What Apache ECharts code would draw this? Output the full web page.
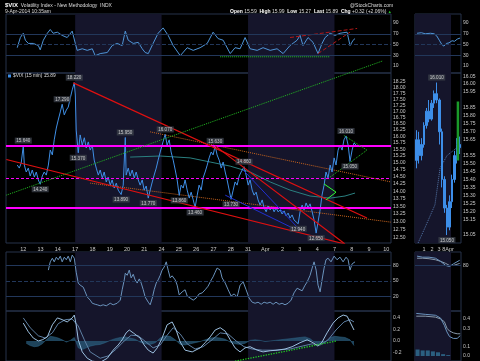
<!DOCTYPE html>
<html>
<head>
<meta charset="utf-8">
<script src="https://cdn.jsdelivr.net/npm/echarts@6.0.0/dist/echarts.min.js"></script>
<style>html,body{margin:0;padding:0;background:#000;overflow:hidden}#c{width:480px;height:361px}</style>
</head>
<body>
<div id="c"></div>
<script>
// ================= DATA =================
const dayLabels = ['12','13','14','17','18','19','20','21','24','25','26','27','28','31','Apr','2','3','4','7','8','9','10'];
const shadeStart = [3, 13];
const shadeEnd = [8, 18];

// main 15-min price line (x = trading-day index, y = price)
const priceT = [-0.35,-0.23,-0.12,0,0.06,0.17,0.29,0.40,0.52,0.64,0.75,0.87,0.98,1.10,1.21,1.33,1.45,1.56,1.68,1.79,1.91,2.02,2.14,2.25,2.37,2.49,2.60,2.72,2.83,2.95,3.01,3.06,3.18,3.29,3.41,3.53,3.64,3.76,3.87,3.99,4.10,4.22,4.34,4.45,4.57,4.68,4.80,4.91,5.03,5.14,5.26,5.38,5.49,5.66,5.78,5.90,5.95,6.07,6.18,6.30,6.42,6.53,6.65,6.76,6.88,6.99,7.11,7.23,7.34,7.46,7.57,7.69,7.80,7.92,8.03,8.15,8.21,8.32,8.44,8.55,8.67,8.79,8.90,9.02,9.13,9.25,9.36,9.48,9.60,9.71,9.83,9.94,10.06,10.17,10.29,10.40,10.52,10.64,10.75,10.87,10.98,11.10,11.21,11.33,11.45,11.56,11.68,11.79,11.91,12.02,12.14,12.25,12.37,12.49,12.60,12.77,12.89,13.01,13.12,13.24,13.35,13.47,13.58,13.70,13.82,13.93,14.05,14.16,14.28,14.39,14.51,14.62,14.74,14.86,14.97,15.09,15.20,15.32,15.43,15.55,15.66,15.78,15.90,16.01,16.13,16.24,16.36,16.47,16.59,16.71,16.82,16.94,17.05,17.17,17.28,17.40,17.51,17.63,17.75,17.86,17.98,18.09,18.21,18.32,18.44,18.55,18.67,18.79,18.90,19.02,19.13,19.25];
const priceV = [14.92,14.81,14.99,15.64,14.92,14.67,14.81,14.53,14.74,14.49,14.67,14.39,14.24,14.53,14.67,14.56,14.92,15.47,15.29,15.86,16.32,16.64,16.97,17.29,16.85,17.05,17.17,17.55,17.90,18.22,17.68,16.24,15.37,16.05,15.66,15.94,15.55,15.78,15.47,15.66,15.10,14.81,14.56,14.74,14.46,14.67,14.32,14.49,14.21,14.39,14.11,14.28,14.04,13.89,14.21,15.95,14.56,14.81,14.53,14.74,14.46,14.67,14.39,14.21,14.39,14.04,14.18,13.77,14.04,14.32,14.56,14.81,15.10,15.40,15.66,15.94,16.07,15.66,15.86,15.40,15.10,14.74,14.39,13.86,14.21,14.11,14.39,14.04,13.77,13.97,13.71,13.46,13.87,14.21,14.04,14.46,14.67,14.92,15.18,15.40,15.29,15.63,15.29,15.10,14.81,15.03,14.67,14.39,14.04,13.73,14.04,14.32,14.21,14.53,14.67,14.86,14.56,14.21,14.39,14.04,13.87,13.97,13.71,13.54,13.71,13.45,13.32,13.51,13.38,13.48,13.32,13.45,13.32,13.38,13.25,13.35,13.19,13.28,13.12,13.22,13.06,13.00,12.94,13.32,13.54,13.38,13.61,13.45,13.58,13.32,13.06,12.65,13.00,13.38,13.87,14.21,14.67,14.46,14.92,14.67,15.18,14.92,15.47,15.66,15.47,15.86,16.01,15.66,15.05,15.47,15.74,15.66];

// annotated highs / lows
const peakT = [0, 0.98, 2.25, 2.95, 3.18, 5.66, 5.90, 7.23, 8.21, 9.02, 9.94, 11.10, 12.02, 12.77, 15.90, 16.94, 18.67, 18.90];
const peakV = [15.64, 14.24, 17.29, 18.22, 15.37, 13.89, 15.95, 13.77, 16.07, 13.86, 13.46, 15.63, 13.73, 14.86, 12.94, 12.65, 16.01, 15.05];
const peakPos = ['top','bottom','top','top','bottom','bottom','top','bottom','top','bottom','bottom','top','bottom','top','bottom','bottom','top','bottom'];

const priceTicks = [12.50,12.75,13.00,13.25,13.50,13.75,14.00,14.25,14.50,14.75,15.00,15.25,15.50,15.75,16.00,16.25,16.50,16.75,17.00,17.25,17.50,17.75,18.00,18.25];
const priceAxisRange = [12.35, 18.65];
const levelSolid = [15.63, 13.46];
const levelDashed = [14.46];

// trend lines [t1, p1, t2, p2]
const greenTrend = [-0.98, 13.87, 20.81, 19.21];
const redTrends = [[2.89, 18.21, 19.88, 13.12], [-0.98, 15.12, 18.61, 12.32], [11.10, 15.63, 18.61, 12.32]];
const blueTrends = [[11.68, 13.87, 15.61, 12.80], [12.72, 14.74, 16.01, 12.74]];
const orangeTrends = [[7.34, 16.17, 21.27, 14.32], [3.87, 14.28, 21.27, 12.99]];
const greenWedgeT = [17.40, 18.09, 17.51];
const greenWedgeV = [14.25, 13.97, 13.71];
const greenTriT = [17.75, 19.88, 18.50];
const greenTriV = [14.49, 15.47, 16.05];
const maT = [6.18, 7.92, 9.65, 10.81, 11.97, 13.12, 14.28, 15.43, 16.59, 17.75, 18.61, 19.19];
const maV = [15.21, 15.25, 15.18, 15.03, 14.88, 14.67, 14.32, 14.04, 13.84, 13.77, 13.84, 13.94];

// RSI (top panel)
const rsiT = [-0.35,-0.17,0,0.12,0.29,0.58,0.87,0.98,1.16,1.39,1.56,1.73,1.97,2.25,2.54,2.83,3.01,3.12,3.41,3.70,3.99,4.16,4.45,4.86,5.14,5.43,5.72,5.90,6.07,6.36,6.65,6.88,7.05,7.23,7.51,7.80,8.09,8.38,8.67,9.08,9.48,9.83,10.23,10.64,10.98,11.27,11.56,11.97,12.25,12.54,12.83,13.12,13.53,13.87,14.28,14.68,15.03,15.43,15.84,16.01,16.18,16.47,16.76,17.05,17.28,17.46,17.75,18.03,18.32,18.73,18.90,19.08,19.19];
const rsiV = [44,63,71,58,52,52,48,40,58,71,78,71,73,67,63,75,52,39,42,39,42,29,33,35,48,52,48,75,58,52,54,42,35,33,52,71,81,67,48,29,44,39,44,52,73,61,58,33,44,42,63,42,39,44,39,42,33,48,58,67,48,63,54,33,52,63,71,67,71,73,48,58,61];
const rsiSupport = [11.39, 27, 17.75, 27];
const rsiRed = [[15.43, 63, 19.31, 80], [17.05, 33, 18.90, 73]];
const rsiTicks = [10, 30, 50, 70, 90];

// Stochastics
const stochT = [1.45,1.56,1.68,1.79,1.91,2.02,2.14,2.25,2.37,2.49,2.60,2.72,2.83,2.95,3.06,3.18,3.29,3.47,3.58,3.70,3.87,3.99,4.16,4.28,4.45,4.62,4.80,5.03,5.20,5.43,5.61,5.72,5.84,5.90,6.01,6.13,6.24,6.36,6.47,6.59,6.71,6.82,6.94,7.05,7.23,7.34,7.46,7.57,7.69,7.80,7.92,8.03,8.15,8.27,8.38,8.50,8.61,8.79,8.90,9.02,9.19,9.36,9.48,9.65,9.83,10.00,10.17,10.35,10.52,10.69,10.87,10.98,11.10,11.21,11.39,11.50,11.68,11.85,12.02,12.20,12.37,12.54,12.72,12.89,13.06,13.24,13.41,13.58,13.76,13.93,14.10,14.28,14.45,14.62,14.80,14.97,15.14,15.32,15.49,15.66,15.84,15.95,16.13,16.30,16.42,16.59,16.71,16.82,16.94,17.05,17.17,17.28,17.40,17.51,17.63,17.80,17.98,18.15,18.32,18.50,18.67,18.79,18.90,19.02,19.19];
const stochV = [71,87,94,87,96,91,98,87,96,91,98,87,100,94,67,46,42,38,29,19,13,7,5,4,2,4,2,7,4,7,13,33,52,65,61,71,56,63,52,46,54,46,33,19,9,4,17,33,46,52,61,71,77,87,71,56,60,52,42,23,29,33,21,17,13,17,25,27,33,40,52,58,67,75,71,56,46,33,21,25,19,42,48,33,17,9,7,9,5,9,7,9,5,9,5,7,4,7,13,27,36,33,31,42,48,61,75,87,71,42,29,52,75,91,94,87,98,91,96,87,96,91,71,83,87];
const stochTicks = [20, 50, 80];

// MACD
const macdT = [0,0.29,0.58,0.87,1.10,1.39,1.68,1.97,2.25,2.54,2.83,2.95,3.06,3.18,3.41,3.70,3.99,4.45,4.86,5.20,5.49,5.72,5.95,6.13,6.36,6.76,6.99,7.23,7.51,7.75,8.03,8.32,8.61,8.84,9.08,9.36,9.77,10.23,10.52,10.81,11.10,11.39,11.68,11.97,12.25,12.54,12.83,13.12,13.53,13.87,14.28,14.68,15.14,15.55,16.01,16.42,16.76,17.05,17.28,17.57,17.92,18.21,18.50,18.73,18.90,19.13];
const macdV = [0.31,0.16,0.05,0.0,0.02,0.07,0.28,0.40,0.37,0.33,0.40,0.45,0.28,0.02,-0.19,-0.30,-0.35,-0.37,-0.30,-0.16,-0.07,0.02,0.14,0.19,0.14,0.05,-0.07,-0.16,-0.21,-0.12,0.05,0.28,0.33,0.19,-0.02,-0.16,-0.19,-0.12,-0.03,0.07,0.19,0.23,0.17,0.02,-0.12,-0.19,-0.12,-0.10,-0.16,-0.19,-0.17,-0.16,-0.14,-0.10,-0.03,0.02,-0.03,-0.09,-0.02,0.14,0.31,0.40,0.45,0.43,0.33,0.19];
const signalT = [0,0.40,0.87,1.27,1.68,2.02,2.43,2.83,3.18,3.53,3.87,4.45,4.91,5.38,5.84,6.24,6.65,7.11,7.51,7.92,8.32,8.67,9.08,9.48,9.94,10.40,10.92,11.39,11.85,12.31,12.77,13.24,13.82,14.57,15.43,16.13,16.71,17.17,17.63,18.09,18.55,18.90,19.13];
const signalV = [0.40,0.23,0.09,0.05,0.14,0.30,0.37,0.38,0.26,0.02,-0.19,-0.30,-0.26,-0.14,0.0,0.10,0.09,-0.02,-0.12,-0.07,0.10,0.23,0.12,-0.05,-0.14,-0.10,0.02,0.14,0.12,0.0,-0.10,-0.14,-0.16,-0.16,-0.14,-0.09,-0.05,-0.07,0.02,0.19,0.33,0.37,0.33];
const histT = [0.17,0.40,0.64,0.87,1.10,1.33,1.56,1.79,2.02,2.25,2.49,2.72,2.95,3.18,3.41,3.64,3.87,4.16,4.45,4.74,5.03,5.32,5.61,5.90,6.18,6.47,6.76,7.05,7.34,7.63,7.92,8.21,8.50,8.79,9.08,9.36,9.65,9.94,10.23,10.52,10.81,11.10,11.39,11.68,11.97,12.25,12.54,12.83,13.12,13.41,13.70,13.99,14.28,14.57,14.86,15.14,15.43,15.72,16.01,16.30,16.59,16.88,17.17,17.46,17.75,18.03,18.32,18.61,18.90,19.13];
const histV = [-0.04,-0.08,-0.10,-0.09,-0.05,0.02,0.08,0.07,0.05,0.02,-0.02,0.01,0.06,-0.12,-0.15,-0.12,-0.09,-0.07,-0.06,-0.03,0.01,0.04,0.06,0.07,0.05,0.03,-0.02,-0.05,-0.06,-0.03,0.05,0.09,0.08,0.02,-0.06,-0.07,-0.05,-0.03,-0.01,0.02,0.05,0.06,0.05,0.03,-0.02,-0.05,-0.06,-0.04,0.01,0.02,0.01,-0.01,0.0,0.01,0.02,0.03,0.04,0.05,0.06,0.07,0.04,-0.03,-0.06,-0.03,0.06,0.08,0.07,0.06,0.02,-0.08];
const macdSupport = [12.25, -0.35, 18.15, 0.0];
const macdTicks = [-0.2, 0.0, 0.2, 0.4];

// ---- right-hand (recent) panels, x = bar index ----
const rightTickPos = [3.5, 6.7, 9.4, 12.9];
const rightTickLab = ['1', '2', '3', '8Apr'];
const rightShade = [0, 14.1];
const rRsiX = [0.8, 2.5, 4, 6, 7.5, 8.5, 9.5, 10.5, 11.3, 12.3, 13.3, 14.5, 15.5, 16.5, 17.6];
const rRsiV = [71, 72, 70, 71, 70, 66, 58, 50, 47, 52, 53, 57, 56, 60, 62];
const candleOpen  = [15.52,15.65,15.55,15.62,15.74,15.83,15.78,15.88,15.94,15.90,15.70,15.40,15.22,15.10,15.26,15.40,15.55,15.62];
const candleClose = [15.65,15.55,15.62,15.74,15.83,15.78,15.88,15.94,15.90,15.70,15.40,15.22,15.10,15.26,15.40,15.55,15.62,15.60];
const candleLow   = [15.47,15.50,15.52,15.60,15.72,15.76,15.77,15.85,15.88,15.62,15.35,15.19,15.05,15.08,15.22,15.38,15.50,15.56];
const candleHigh  = [15.71,15.70,15.66,15.76,15.85,15.90,15.90,15.96,16.01,15.91,15.72,15.42,15.24,15.30,15.43,15.58,15.66,15.67];
const rMaX = [1.2, 4, 7.8, 9.8, 12.5, 16.4, 17.8];
const rMaV = [15.00, 15.10, 15.24, 15.47, 15.55, 15.60, 15.61];
const rightTicks = [15.05,15.15,15.20,15.25,15.30,15.35,15.40,15.45,15.50,15.55,15.65,15.70,15.75,15.80,15.85,15.95,16.00,16.05];
const rightMarks = [15.89, 15.61, 15.11];
const todayBar = [16.8, 15.52, 16.8, 15.89];
const rStochX = [0.8, 3, 5.5, 8, 10, 12, 13.5, 15, 17.5];
const rStochK = [98, 96, 96, 94, 88, 80, 78, 83, 90];
const rStochD = [94, 94, 93, 91, 88, 84, 80, 80, 84];
const rMacdX = [0.5, 4, 8, 10, 11.5, 12.5, 13.5, 15, 16.5, 17.7];
const rMacdA = [0.46, 0.45, 0.44, 0.41, 0.33, 0.26, 0.21, 0.19, 0.19, 0.22];
const rMacdB = [0.43, 0.43, 0.42, 0.40, 0.37, 0.30, 0.27, 0.25, 0.24, 0.24];
const rHistX = [1, 3, 5, 7, 9, 11, 13];
const rHistV = [0.07, 0.06, 0.06, 0.05, 0.04, 0.02, 0.01];
const rMacdTicks = [0.0, 0.1, 0.3, 0.4];

// ================= CHART =================
const ln = Math.log;
const FONT = "'Liberation Sans', Arial, sans-serif";
const NFONT = "'Liberation Sans Narrow', 'Liberation Sans', Arial, sans-serif";
const SHADE = '#15152b', BORDER = '#26324a', REF = '#22375a', TXT = '#c8c8c8';
const pairs = (a, b, f) => a.map((x, k) => [x, f ? f(b[k]) : b[k]]);
const segLn = s => [[s[0], ln(s[1])], [s[2], ln(s[3])]];
const seg = s => [[s[0], s[1]], [s[2], s[3]]];

const gridDefs = [
  {left: 6, top: 14, width: 385, height: 59},
  {left: 6, top: 73, width: 385, height: 170},
  {left: 6, top: 252, width: 385, height: 59},
  {left: 6, top: 311, width: 385, height: 50},
  {left: 415, top: 14, width: 46, height: 59},
  {left: 415, top: 73, width: 46, height: 170},
  {left: 415, top: 252, width: 46, height: 59},
  {left: 415, top: 311, width: 46, height: 50}
];
const grid = gridDefs.map(g => Object.assign({show: true, borderColor: BORDER, borderWidth: 1, backgroundColor: 'rgba(0,0,0,0)', outerBoundsMode: 'none'}, g));

const lab = extra => Object.assign({color: TXT, fontSize: 5, fontFamily: FONT, showMinLabel: true, showMaxLabel: true, hideOverlap: false}, extra);
const xAxis = [];
for (let g = 0; g < 4; g++) {
  xAxis.push({type: 'value', gridIndex: g, min: -1, max: 21.27,
    axisLine: {show: false}, axisTick: {show: false}, splitLine: {show: false},
    axisLabel: g === 1 ? lab({customValues: dayLabels.map((_, k) => k), formatter: v => dayLabels[Math.round(v)], margin: 3, fontSize: 5.5}) : {show: false}});
}
for (let g = 4; g < 8; g++) {
  xAxis.push({type: 'value', gridIndex: g, min: 0, max: 18,
    axisLine: {show: false}, axisTick: {show: false}, splitLine: {show: false},
    axisLabel: g === 5 ? lab({customValues: rightTickPos, margin: 3, fontSize: 5.5, formatter: v => {
      let best = 0; rightTickPos.forEach((p, k) => { if (Math.abs(p - v) < Math.abs(rightTickPos[best] - v)) best = k; });
      return rightTickLab[best]; }}) : {show: false}});
}
function yAx(g, min, max, ticks, fmt) {
  return {type: 'value', gridIndex: g, position: 'right', min, max,
    axisLine: {show: false}, axisTick: {show: false}, splitLine: {show: false},
    axisLabel: lab({customValues: ticks, formatter: fmt, margin: 2})};
}
const yAxis = [
  yAx(0, -3.3, 107, rsiTicks, v => String(v)),
  yAx(1, ln(priceAxisRange[0]), ln(priceAxisRange[1]), priceTicks.map(ln), v => Math.exp(v).toFixed(2)),
  yAx(2, -8, 106, stochTicks, v => String(v)),
  yAx(3, -0.348, 0.52, macdTicks, v => v.toFixed(1)),
  yAx(4, -3.3, 107, rsiTicks, v => String(v)),
  yAx(5, 15.0, 16.07, rightTicks, v => v.toFixed(2)),
  yAx(6, -8, 106, [80], v => String(v)),
  yAx(7, -0.054, 0.486, rMacdTicks, v => v.toFixed(1))
];

function ln_(g, data, color, width, extra) {
  return Object.assign({type: 'line', xAxisIndex: g, yAxisIndex: g, data, symbol: 'none', silent: true, z: 3,
    lineStyle: {color, width: width || 1}}, extra || {});
}
function shadeSeries(g, areas) {
  return {type: 'line', xAxisIndex: g, yAxisIndex: g, data: [], silent: true, z: 1,
    markArea: {silent: true, itemStyle: {color: SHADE}, data: areas}};
}
const leftAreas = shadeStart.map((s, k) => [{xAxis: s}, {xAxis: shadeEnd[k]}]);
const rightAreas = [[{xAxis: rightShade[0]}, {xAxis: rightShade[1]}]];
const refLines = vals => ({symbol: ['none', 'none'], silent: true, label: {show: false}, animation: false,
  data: vals.map(v => ({yAxis: v[0], lineStyle: {color: REF, width: 1, type: v[1]}}))});
const hiMark = (v, txt, bg, fg, bd) => ({yAxis: v, lineStyle: {opacity: 0},
  label: {show: true, position: 'end', formatter: txt, backgroundColor: bg, color: fg, borderColor: bd || bg, borderWidth: bd ? 0.6 : 0,
    padding: [1, 1, 0, 1], fontSize: 5, fontFamily: FONT, distance: 1}});

const series = [];
for (let g = 0; g < 4; g++) series.push(shadeSeries(g, leftAreas));
for (let g = 4; g < 8; g++) series.push(shadeSeries(g, rightAreas));

// ---- RSI left ----
series.push(ln_(0, pairs(rsiT, rsiV), '#4f95d8', 1, {markLine: refLines([[70, 'solid'], [50, 'dashed'], [30, 'solid']])}));
series.push(ln_(0, seg(rsiSupport), '#22cc22', 1, {lineStyle: {color: '#22cc22', width: 1, type: 'dotted'}}));
rsiRed.forEach(s => series.push(ln_(0, seg(s), '#b01818', 1, {lineStyle: {color: '#b01818', width: 1, type: 'dashed'}})));
// ---- RSI right ----
series.push(ln_(4, pairs(rRsiX, rRsiV), '#4f95d8', 1, {markLine: {symbol: ['none', 'none'], silent: true,
  data: [{yAxis: 70, lineStyle: {color: REF, type: 'solid'}, label: {show: false}}, {yAxis: 50, lineStyle: {color: REF, type: 'dashed'}, label: {show: false}},
         {yAxis: 30, lineStyle: {color: REF, type: 'solid'}, label: {show: false}}, hiMark(61.04, '61.04', '#2a3a55', '#fff')]}}));

// ---- main price panel ----
series.push(ln_(1, pairs(maT, maV, ln), '#2a8080', 1, {z: 2}));
orangeTrends.forEach(s => series.push(ln_(1, segLn(s), '#c8641e', 1, {lineStyle: {color: '#c8641e', width: 1, type: 'dotted'}})));
series.push(ln_(1, pairs(priceT, priceV, ln), '#3f8fe6', 1, {z: 4,
  markLine: {symbol: ['none', 'none'], silent: true, label: {show: false},
    data: levelSolid.map(v => ({yAxis: ln(v), lineStyle: {color: '#ff00ff', width: 2, type: 'solid'}}))
      .concat(levelDashed.map(v => ({yAxis: ln(v), lineStyle: {color: '#ff00ff', width: 1, type: [3, 2]}})))}}));
redTrends.forEach(s => series.push(ln_(1, segLn(s), '#e01010', 1.2, {z: 5})));
blueTrends.forEach(s => series.push(ln_(1, segLn(s), '#2030d0', 1, {z: 5})));
series.push(ln_(1, segLn(greenTrend), '#22bb22', 1, {z: 5, clip: false, lineStyle: {color: '#22bb22', width: 1, type: 'dotted'}}));
series.push(ln_(1, pairs(greenWedgeT, greenWedgeV, ln), '#33ff33', 1, {z: 5}));
series.push(ln_(1, pairs(greenTriT, greenTriV, ln), '#22bb22', 1, {z: 5, lineStyle: {color: '#22bb22', width: 1, type: 'dotted'}}));
series.push({type: 'scatter', xAxisIndex: 1, yAxisIndex: 1, symbolSize: 1, silent: true, z: 7,
  itemStyle: {color: 'rgba(0,0,0,0)'},
  data: peakT.map((t, k) => ({value: [t, ln(peakV[k])], label: {position: peakPos[k]}})),
  label: {show: true, formatter: p => peakV[p.dataIndex].toFixed(3), fontSize: 4.6, fontFamily: FONT, color: '#e8e8e8',
    backgroundColor: '#3a3e48', padding: [1, 1.5, 0, 1.5], distance: 1.5}});

// ---- right price panel ----
series.push(ln_(5, pairs(rMaX, rMaV), '#5577aa', 1, {lineStyle: {color: '#5577aa', width: 1, type: 'dotted'},
  markLine: {symbol: ['none', 'none'], silent: true, data: [
    hiMark(rightMarks[0], rightMarks[0].toFixed(2), '#2b6cc0', '#ffffff'),
    hiMark(rightMarks[1], rightMarks[1].toFixed(2), '#1c2230', '#ffffff', '#7fb0b0'),
    hiMark(rightMarks[2], rightMarks[2].toFixed(2), '#2c3038', '#dddddd')]}}));
series.push({type: 'candlestick', xAxisIndex: 5, yAxisIndex: 5, silent: true, z: 4, barWidth: 2,
  encode: {x: 0, y: [1, 2, 3, 4]},
  data: candleOpen.map((o, k) => [k + 0.5, o, candleClose[k], candleLow[k], candleHigh[k]]),
  itemStyle: {color: '#3d8ee8', color0: '#3d8ee8', borderColor: '#3d8ee8', borderColor0: '#3d8ee8', borderWidth: 1}});
series.push(ln_(5, seg(todayBar), '#1a9a2a', 2.5, {z: 5}));
series.push({type: 'scatter', xAxisIndex: 5, yAxisIndex: 5, symbolSize: 1, silent: true, z: 7,
  itemStyle: {color: 'rgba(0,0,0,0)'},
  data: [{value: [8.5, 16.01], label: {position: 'top'}}, {value: [12.5, 15.05], label: {position: 'bottom'}}],
  label: {show: true, formatter: p => p.value[1].toFixed(3), fontSize: 4.6, fontFamily: FONT, color: '#e8e8e8',
    backgroundColor: '#3a3e48', padding: [1, 1.5, 0, 1.5], distance: 1.5}});

// ---- Stochastics ----
series.push(ln_(2, pairs(stochT, stochV), '#6a93bd', 1, {markLine: refLines([[80, 'solid'], [50, 'dashed'], [20, 'solid']])}));
series.push(ln_(6, pairs(rStochX, rStochD), '#8899aa', 1));
series.push(ln_(6, pairs(rStochX, rStochK), '#6a93bd', 1, {markLine: {symbol: ['none', 'none'], silent: true, data: [
  {yAxis: 80, lineStyle: {color: REF, type: 'solid'}, label: {show: false}}, hiMark(88.81, '88.81', '#2a3a55', '#fff')]}}));

// ---- MACD ----
series.push(ln_(3, pairs(histT, histV), '#2f6688', 0.5, {z: 2, areaStyle: {color: '#2b5f80', origin: 0}}));
series.push(ln_(3, pairs(signalT, signalV), '#5d7fa3', 1));
series.push(ln_(3, pairs(macdT, macdV), '#9cc0e0', 1));
series.push(ln_(3, seg(macdSupport), '#22cc22', 1.3, {lineStyle: {color: '#22cc22', width: 1.3, type: 'dotted'}}));
series.push({type: 'bar', xAxisIndex: 7, yAxisIndex: 7, data: pairs(rHistX, rHistV), barWidth: 4, silent: true, z: 2,
  itemStyle: {color: '#2b5f80'}});
series.push(ln_(7, pairs(rMacdX, rMacdB), '#8899aa', 1));
series.push(ln_(7, pairs(rMacdX, rMacdA), '#6a93bd', 1, {markLine: {symbol: ['none', 'none'], silent: true, data: [
  hiMark(0.255, '0.255', '#2a3a55', '#fff'), hiMark(0.18, '0.180', '#2a3a55', '#fff')]}}));

// ---- header texts ----
const richT = (x, y, text, size) => ({type: 'text', x, y, silent: true, z: 20,
  style: {text, font: size + 'px ' + NFONT, fill: '#dddddd', verticalAlign: 'middle', align: 'left',
    rich: {b: {fontWeight: 'bold', fill: '#ffffff', fontSize: size, fontFamily: NFONT},
           n: {fill: '#dddddd', fontSize: size, fontFamily: NFONT},
           t: {fill: '#ffffff', fontWeight: 'bold', fontSize: size + 1, fontFamily: NFONT},
           g: {fill: '#22cc22', fontSize: size - 1, fontFamily: NFONT}}}});
const graphic = [
  richT(5, 5.5, '{t|$VIX}  {n|Volatility Index - New Methodology}  {n|INDX}', 5),
  richT(5, 11.5, '{n|9-Apr-2014 10:35am}', 5),
  richT(350, 5.5, '{n|@StockCharts.com}', 5),
  richT(230, 11.5, '{b|Open} {n|15.59}  {b|High} {n|15.99}  {b|Low} {n|15.27}  {b|Last} {n|15.89}  {b|Chg} {n|+0.32 (+2.06%)} {g|\u25B2}', 5),
  {type: 'rect', silent: true, z: 20, shape: {x: 8, y: 74.5, width: 3, height: 3}, style: {fill: '#3d8ee8'}},
  richT(13, 76, '{n|$VIX (15 min) 15.89}', 4.8)
];

const chart = echarts.init(document.getElementById('c'), null, {renderer: 'canvas'});
chart.setOption({
  backgroundColor: '#000000',
  animation: false,
  grid, xAxis, yAxis, series, graphic
});
</script>
</body>
</html>
